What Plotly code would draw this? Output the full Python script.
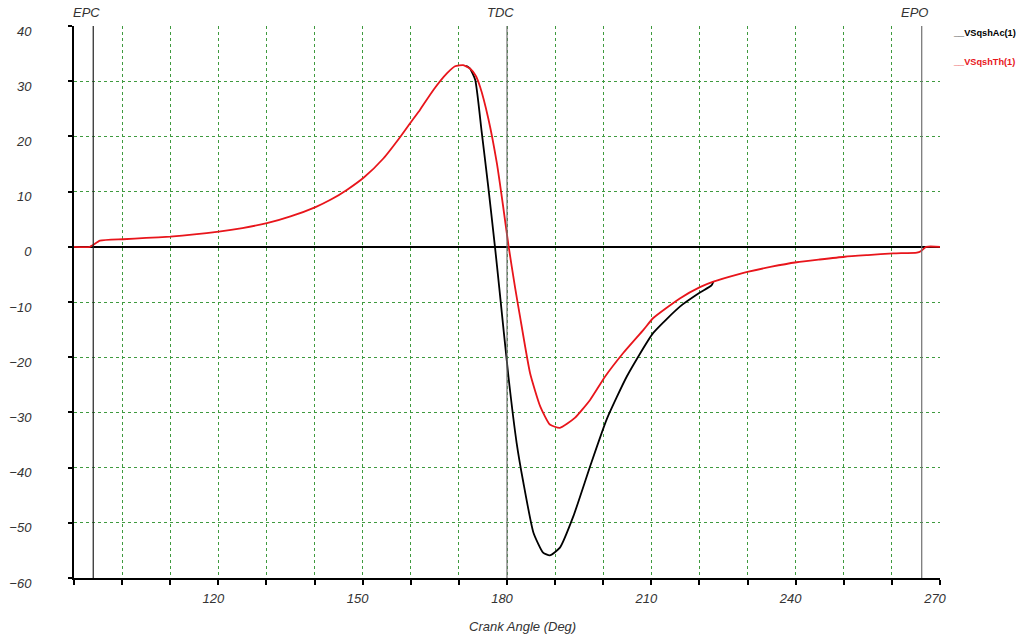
import plotly.graph_objects as go

# ---- data ----
red_angle = [90, 93.3, 95.4, 100.2, 105, 110, 115, 120.1, 125, 130.1, 135, 140.2, 143.5,
             146.7, 150.3, 154.3, 157.8, 160.2, 161.9, 164.7, 167.5, 169.2, 170.9, 172.3,
             173.5, 174.4, 176.1, 177.9, 179.2, 180.3, 181.7, 182.7, 184.8, 186.9, 188.9,
             191.0, 194.1, 197.3, 200.4, 204.2, 208.4, 210.4, 216.0, 220.1, 222.9, 228.4,
             230.2, 235, 240.2, 245, 250.2, 255, 260.3, 265.2, 266.0, 267.1, 270]
red_value = [0, 0, 1.1, 1.37, 1.6, 1.85, 2.25, 2.75, 3.4, 4.27, 5.5, 7.2, 8.6,
             10.3, 12.6, 16.0, 19.9, 22.8, 24.8, 28.4, 31.4, 32.7, 32.9, 32.3,
             31.0, 29.0, 23.3, 15.1, 7.3, 0.3, -7.5, -12.6, -22.9, -28.9, -32.2,
             -32.8, -31.0, -27.7, -23.5, -19.2, -15.0, -12.9, -9.3, -7.3, -6.3, -4.9,
             -4.5, -3.6, -2.8, -2.3, -1.8, -1.5, -1.2, -1.05, -0.8, 0, 0]

black_angle = [171.5, 172.3, 173.4, 174.7, 176.1, 177.5, 178.4, 180.3, 182.0, 183.4, 185.5,
               187.5, 188.9, 191.0, 193.8, 197.3, 200.7, 204.9, 210.4, 216.0, 220.1, 222.5, 222.9]
black_value = [32.8, 32.3, 30.2, 21.1, 10.9, 0, -7.5, -23.5, -35.5, -42.7, -51.8,
               -55.4, -55.9, -54.5, -48.8, -39.7, -31.3, -23.5, -15.6, -10.8, -8.3, -7.0, -6.3]

x_tick_vals = list(range(90, 271, 10))
x_tick_text = ["120", "150", "180", "210", "240", "270"]
y_tick_vals = list(range(-60, 41, 10))

markers = {"EPC": 94.0, "TDC": 180.0, "EPO": 266.2}
series_names = ["__VSqshAc(1)", "__VSqshTh(1)"]
series_colors = ["#000000", "#e8151b"]
x_title = "Crank Angle (Deg)"

FONT = "Liberation Sans, Arial, sans-serif"
tick_font = dict(family=FONT, size=13, color="#333333", style="italic")
grid_color = "#3f9a3f"

fig = go.Figure()
fig.add_trace(go.Scatter(x=black_angle, y=black_value, mode="lines", name=series_names[0],
                         line=dict(color=series_colors[0], width=1.8, shape="spline", smoothing=0.5),
                         showlegend=False))
fig.add_trace(go.Scatter(x=red_angle, y=red_value, mode="lines", name=series_names[1],
                         line=dict(color=series_colors[1], width=1.8, shape="spline", smoothing=0.5),
                         showlegend=False))

for name, ang in markers.items():
    fig.add_shape(type="line", xref="x", yref="paper", x0=ang, x1=ang, y0=0, y1=1,
                  line=dict(color="#222222" if name == "EPC" else "#707070", width=1.2), layer="above")
    fig.add_annotation(x=ang, y=1, xref="x", yref="paper", text=name, showarrow=False,
                       xanchor="center", yanchor="bottom", xshift=-7, yshift=4,
                       font=dict(family=FONT, size=13, color="#333333", style="italic"))

for i, (nm, col) in enumerate(zip(series_names, series_colors)):
    fig.add_annotation(x=1, y=[0.9873, 0.9353][i], xref="paper", yref="paper", text="<b>%s</b>" % nm,
                       showarrow=False, xanchor="left", yanchor="middle", xshift=11,
                       font=dict(family=FONT, size=9.2, color=col))

# axis title placed as annotation (slightly right of centre, as in the reference)
fig.add_annotation(x=0.5, y=0, xref="paper", yref="paper", text=x_title, showarrow=False,
                   xanchor="center", yanchor="middle", xshift=15, yshift=-48,
                   font=dict(family=FONT, size=13, color="#333333", style="italic"))

fig.update_layout(
    width=1021, height=637,
    margin=dict(l=74, r=81, t=26, b=59),
    paper_bgcolor="white", plot_bgcolor="white",
    showlegend=False,
    xaxis=dict(range=[90, 270], tickmode="array", tickvals=x_tick_vals,
               ticktext=[str(v) if str(v) in x_tick_text else "" for v in x_tick_vals],
               automargin=False,
               showgrid=True, gridcolor=grid_color, gridwidth=1, griddash="3px,3px",
               showline=True, linecolor="black", linewidth=2,
               ticks="outside", ticklen=5, tickwidth=2, tickcolor="black",
               tickfont=tick_font, ticklabelshift=-5, ticklabelstandoff=2,
               zeroline=False),
    yaxis=dict(range=[-60, 40], tickmode="array", tickvals=y_tick_vals,
               automargin=False,
               showgrid=True, gridcolor=grid_color, gridwidth=1, griddash="3px,3px",
               showline=True, linecolor="black", linewidth=2,
               ticks="outside", ticklen=4, tickwidth=2, tickcolor="black",
               tickfont=tick_font, ticklabelshift=5, ticklabelstandoff=34,
               zeroline=True, zerolinecolor="black", zerolinewidth=2),
)

fig.write_html("out.html", config={"displayModeBar": False},
               post_script="document.body.style.margin='0';document.body.style.overflow='hidden';")
